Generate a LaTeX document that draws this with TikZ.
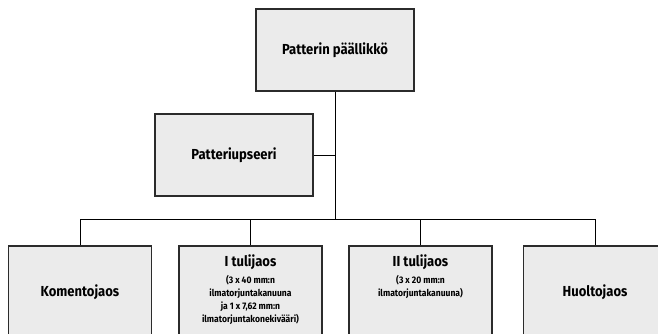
\documentclass[tikz,border=0pt]{standalone}
\usepackage{fontspec}
\setmainfont{Fira Sans}[FakeStretch=0.9]
\usepackage{tikz}
\usepackage{xcolor}
\usetikzlibrary{positioning}
\definecolor{boxfill}{HTML}{EBEBEB}
\definecolor{boxline}{HTML}{2B2B2B}

\begin{document}
\begin{tikzpicture}[x=1pt, y=-1pt,
    unitbox/.style={draw=boxline, line width=1.4pt, fill=boxfill, minimum width=143pt, minimum height=92pt,
      font=\fontsize{14.5}{16}\selectfont\bfseries, inner sep=0pt},
    headbox/.style={unitbox, minimum width=158pt, minimum height=82pt},
    headtext/.style={font=\fontsize{14.5}{16}\selectfont\bfseries, inner sep=0pt},
    subtext/.style={font=\fontsize{9.5}{13}\selectfont\bfseries, align=center, inner sep=0pt},
    link/.style={draw=black, line width=1pt}]
\clip (0,0) rectangle (658,333);
\fill[white] (0,0) rectangle (658,333);

% johto
\node[headbox] (chief) at (335,50) {Patterin päällikkö};
\node[headbox] (officer) at (234,155) {Patteriupseeri};

% jaokset
\node[unitbox] (cmd) at (80,292) {Komentojaos};
\node[unitbox] (fire1) at (250.5,292) {};
\node[unitbox] (fire2) at (420.5,292) {};
\node[unitbox] (supply) at (595,292) {Huoltojaos};

\node[headtext, anchor=base] (fire1head) at ([yshift=-21pt]fire1.north) {I tulijaos};
\node[subtext, anchor=north] (fire1text) at ([yshift=-8.5pt]fire1head.base) {(3 x 40 mm:n\\ilmatorjuntakanuuna\\ja 1 x 7,62 mm:n\\ilmatorjuntakonekivääri)};
\node[headtext, anchor=base] (fire2head) at ([yshift=-21pt]fire2.north) {II tulijaos};
\node[subtext, anchor=north] (fire2text) at ([yshift=-8.5pt]fire2head.base) {(3 x 20 mm:n\\ilmatorjuntakanuuna)};

% yhteydet
\coordinate (bus) at (chief.south |- 0,219);
\draw[link] (chief.south) -- (bus);
\draw[link] (officer.east) -- (officer.east -| chief.south);
\draw[link] (cmd.north |- bus) -- (supply.north |- bus);
\foreach \unit in {cmd, fire1, fire2, supply}
  \draw[link] (\unit.north |- bus) -- (\unit.north);
\end{tikzpicture}
\end{document}
